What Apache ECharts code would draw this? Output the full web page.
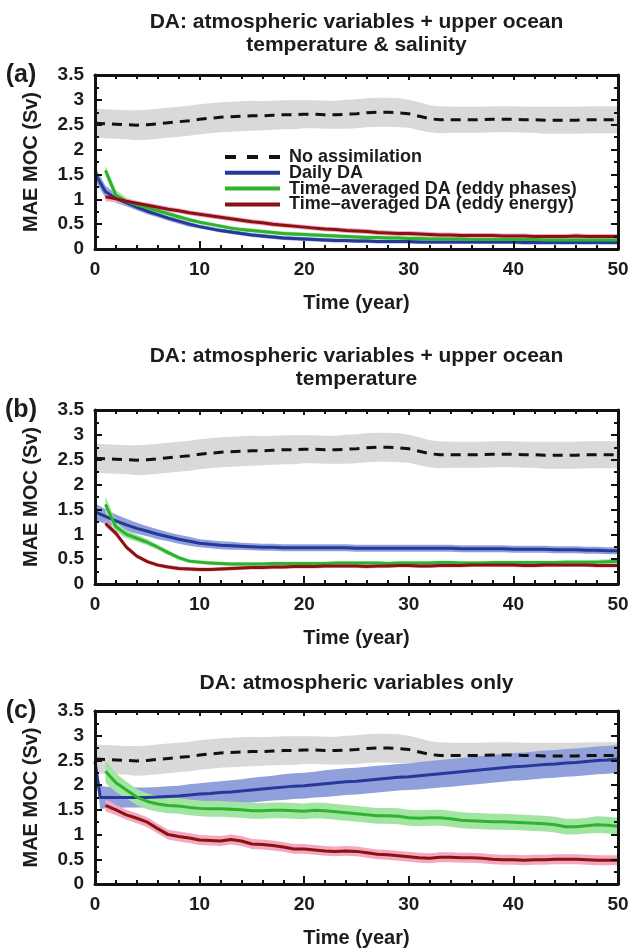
<!DOCTYPE html>
<html>
<head>
<meta charset="utf-8">
<script src="https://cdn.jsdelivr.net/npm/echarts/dist/echarts.min.js"></script>
<style>
html,body{margin:0;padding:0;background:#fff}
#chart{width:632px;height:952px}
</style>
</head>
<body>
<div id="chart"></div>
<script>
// ---- data: MAE of the MOC (Sv) against time (years) ----
const YEARS = [0,1,2,3,4,5,6,7,8,9,10,11,12,13,14,15,16,17,18,19,20,21,22,23,24,25,26,27,28,29,30,31,32,33,34,35,36,37,38,39,40,41,42,43,44,45,46,47,48,49,50];
const DAILY_C_YEARS = [0,0.5,1,2,3,4,5,6,7,8,9,10,11,12,13,14,15,16,17,18,19,20,21,22,23,24,25,26,27,28,29,30,31,32,33,34,35,36,37,38,39,40,41,42,43,44,45,46,47,48,49,50];

const SERIES_NAMES = ['No assimilation', 'Daily DA', 'Time\u2013averaged DA (eddy phases)', 'Time\u2013averaged DA (eddy energy)'];

// free run (same in every panel)
const NO_ASSIM = [2.53,2.52,2.51,2.50,2.49,2.50,2.52,2.54,2.56,2.58,2.61,2.63,2.65,2.66,2.67,2.68,2.68,2.69,2.70,2.70,2.71,2.71,2.70,2.70,2.71,2.72,2.74,2.75,2.75,2.74,2.72,2.67,2.62,2.60,2.60,2.60,2.60,2.60,2.61,2.61,2.61,2.60,2.60,2.59,2.59,2.59,2.59,2.60,2.60,2.60,2.60];
const NO_ASSIM_SPREAD = [0.29,0.29,0.29,0.29,0.30,0.30,0.30,0.30,0.30,0.30,0.30,0.30,0.30,0.30,0.30,0.30,0.29,0.29,0.29,0.29,0.28,0.28,0.28,0.28,0.29,0.29,0.29,0.29,0.29,0.29,0.28,0.28,0.27,0.27,0.26,0.26,0.26,0.26,0.26,0.26,0.26,0.26,0.26,0.27,0.27,0.27,0.27,0.27,0.27,0.27,0.27];

// (a) atmosphere + upper ocean temperature & salinity
const DAILY_A = [1.52,1.15,1.02,0.93,0.84,0.76,0.69,0.62,0.56,0.50,0.45,0.41,0.37,0.34,0.31,0.28,0.26,0.24,0.22,0.21,0.20,0.19,0.18,0.17,0.17,0.16,0.16,0.15,0.15,0.15,0.15,0.14,0.14,0.14,0.14,0.14,0.14,0.14,0.14,0.14,0.14,0.13,0.13,0.13,0.13,0.13,0.13,0.13,0.13,0.13,0.13];
const DAILY_A_SPREAD = [0.14,0.12,0.09,0.07,0.06,0.06,0.05,0.05,0.05,0.05,0.04,0.04,0.04,0.04,0.04,0.04,0.04,0.04,0.04,0.04,0.04,0.04,0.04,0.04,0.04,0.04,0.04,0.04,0.04,0.04,0.04,0.04,0.04,0.04,0.04,0.04,0.04,0.04,0.04,0.04,0.04,0.04,0.04,0.04,0.04,0.04,0.04,0.04,0.04,0.04,0.04];
const PHASES_A = [null,1.58,1.08,0.96,0.89,0.83,0.77,0.71,0.65,0.59,0.54,0.50,0.46,0.42,0.39,0.37,0.35,0.33,0.31,0.30,0.29,0.28,0.27,0.26,0.25,0.24,0.23,0.23,0.22,0.22,0.21,0.21,0.20,0.20,0.20,0.20,0.19,0.19,0.19,0.19,0.19,0.19,0.19,0.18,0.18,0.18,0.18,0.18,0.18,0.18,0.18];
const PHASES_A_SPREAD = [null,0.10,0.10,0.07,0.05,0.05,0.05,0.05,0.04,0.04,0.04,0.04,0.04,0.04,0.04,0.04,0.04,0.04,0.04,0.04,0.04,0.04,0.04,0.04,0.04,0.04,0.04,0.04,0.04,0.04,0.04,0.04,0.04,0.04,0.04,0.04,0.04,0.04,0.04,0.04,0.04,0.04,0.04,0.04,0.04,0.04,0.04,0.04,0.04,0.04,0.04];
const ENERGY_A = [null,1.05,1.01,0.96,0.92,0.88,0.84,0.80,0.77,0.73,0.70,0.67,0.64,0.61,0.58,0.55,0.53,0.50,0.48,0.46,0.44,0.42,0.40,0.39,0.37,0.36,0.35,0.33,0.32,0.31,0.31,0.30,0.29,0.28,0.28,0.27,0.27,0.27,0.27,0.26,0.26,0.26,0.25,0.25,0.25,0.25,0.26,0.25,0.25,0.25,0.25];
const ENERGY_A_SPREAD = [null,0.09,0.07,0.06,0.05,0.05,0.05,0.05,0.05,0.05,0.05,0.05,0.05,0.05,0.05,0.05,0.05,0.05,0.05,0.05,0.05,0.05,0.05,0.05,0.05,0.05,0.05,0.05,0.05,0.05,0.05,0.05,0.05,0.05,0.05,0.05,0.05,0.05,0.05,0.05,0.05,0.05,0.05,0.05,0.05,0.05,0.05,0.05,0.05,0.05,0.05];

// (b) atmosphere + upper ocean temperature
const DAILY_B = [1.45,1.36,1.27,1.19,1.12,1.06,1.00,0.95,0.90,0.86,0.82,0.80,0.78,0.77,0.76,0.75,0.74,0.74,0.73,0.73,0.73,0.73,0.73,0.73,0.73,0.72,0.72,0.72,0.72,0.72,0.72,0.72,0.72,0.72,0.72,0.71,0.71,0.71,0.71,0.71,0.70,0.70,0.70,0.70,0.69,0.69,0.69,0.68,0.68,0.67,0.67];
const DAILY_B_SPREAD = [0.17,0.15,0.13,0.12,0.11,0.10,0.10,0.09,0.09,0.09,0.08,0.08,0.08,0.08,0.07,0.07,0.07,0.07,0.07,0.07,0.07,0.07,0.07,0.07,0.07,0.07,0.07,0.07,0.07,0.07,0.07,0.07,0.07,0.07,0.07,0.07,0.07,0.07,0.07,0.07,0.07,0.07,0.07,0.07,0.07,0.07,0.07,0.07,0.07,0.07,0.07];
const PHASES_B = [null,1.60,1.15,1.00,0.92,0.84,0.74,0.63,0.53,0.46,0.44,0.42,0.41,0.40,0.40,0.40,0.40,0.41,0.41,0.41,0.41,0.41,0.41,0.42,0.42,0.42,0.42,0.42,0.41,0.42,0.42,0.42,0.42,0.43,0.43,0.42,0.42,0.42,0.43,0.43,0.43,0.43,0.43,0.43,0.43,0.44,0.44,0.44,0.44,0.45,0.46];
const PHASES_B_SPREAD = [null,0.16,0.10,0.08,0.07,0.06,0.05,0.05,0.04,0.04,0.04,0.04,0.04,0.04,0.04,0.04,0.04,0.04,0.04,0.04,0.04,0.04,0.04,0.04,0.04,0.04,0.04,0.04,0.04,0.04,0.04,0.04,0.04,0.04,0.04,0.04,0.04,0.04,0.04,0.04,0.04,0.04,0.04,0.04,0.04,0.04,0.04,0.04,0.05,0.05,0.06];
const ENERGY_B = [null,1.22,1.02,0.74,0.56,0.45,0.38,0.34,0.31,0.30,0.29,0.29,0.30,0.31,0.32,0.33,0.33,0.34,0.34,0.35,0.35,0.35,0.36,0.36,0.36,0.36,0.35,0.36,0.36,0.37,0.37,0.36,0.36,0.37,0.37,0.37,0.38,0.38,0.38,0.38,0.38,0.37,0.37,0.38,0.38,0.38,0.38,0.38,0.37,0.37,0.37];
const ENERGY_B_SPREAD = [null,0.07,0.06,0.05,0.04,0.04,0.04,0.04,0.04,0.04,0.04,0.04,0.04,0.04,0.04,0.04,0.04,0.04,0.04,0.04,0.04,0.04,0.04,0.04,0.04,0.04,0.04,0.04,0.04,0.04,0.04,0.04,0.04,0.04,0.04,0.04,0.04,0.04,0.04,0.04,0.04,0.04,0.04,0.04,0.04,0.04,0.04,0.04,0.04,0.04,0.04];

// (c) atmosphere only
const DAILY_C = [2.48,1.75,1.75,1.75,1.75,1.75,1.75,1.76,1.77,1.78,1.80,1.82,1.83,1.85,1.86,1.88,1.90,1.92,1.94,1.96,1.98,1.99,2.01,2.03,2.05,2.07,2.08,2.10,2.12,2.14,2.16,2.17,2.19,2.21,2.23,2.25,2.27,2.29,2.31,2.33,2.35,2.37,2.38,2.40,2.42,2.43,2.45,2.46,2.48,2.50,2.51,2.53];
const DAILY_C_SPREAD = [0.05,0.24,0.22,0.21,0.20,0.20,0.20,0.20,0.21,0.21,0.22,0.22,0.23,0.23,0.24,0.24,0.25,0.25,0.25,0.26,0.26,0.26,0.26,0.27,0.27,0.27,0.27,0.27,0.27,0.27,0.27,0.27,0.28,0.28,0.28,0.28,0.28,0.28,0.28,0.28,0.28,0.28,0.28,0.28,0.28,0.28,0.28,0.28,0.28,0.28,0.28,0.28];
const PHASES_C = [null,2.28,2.05,1.90,1.76,1.67,1.62,1.59,1.58,1.55,1.53,1.52,1.52,1.51,1.50,1.48,1.48,1.49,1.49,1.48,1.47,1.49,1.48,1.46,1.44,1.42,1.40,1.38,1.38,1.37,1.34,1.33,1.34,1.34,1.32,1.29,1.28,1.27,1.26,1.26,1.25,1.24,1.23,1.22,1.20,1.16,1.16,1.18,1.20,1.19,1.17];
const PHASES_C_SPREAD = [null,0.23,0.19,0.17,0.16,0.16,0.16,0.16,0.16,0.16,0.16,0.16,0.16,0.16,0.16,0.16,0.16,0.16,0.16,0.16,0.16,0.16,0.16,0.16,0.16,0.16,0.16,0.16,0.16,0.16,0.16,0.16,0.16,0.16,0.16,0.16,0.16,0.16,0.16,0.16,0.16,0.16,0.16,0.16,0.16,0.16,0.16,0.16,0.17,0.17,0.17];
const ENERGY_C = [null,1.59,1.50,1.40,1.33,1.25,1.12,1.00,0.96,0.93,0.89,0.88,0.87,0.90,0.87,0.81,0.80,0.78,0.75,0.71,0.71,0.69,0.67,0.66,0.67,0.66,0.63,0.60,0.59,0.57,0.55,0.53,0.52,0.54,0.54,0.53,0.53,0.52,0.50,0.49,0.49,0.48,0.49,0.49,0.50,0.50,0.50,0.49,0.48,0.48,0.48];
const ENERGY_C_SPREAD = [null,0.12,0.11,0.10,0.10,0.10,0.10,0.10,0.10,0.10,0.10,0.10,0.10,0.10,0.10,0.10,0.10,0.10,0.10,0.10,0.10,0.10,0.10,0.10,0.10,0.10,0.10,0.10,0.10,0.10,0.10,0.10,0.10,0.10,0.10,0.10,0.10,0.10,0.10,0.10,0.10,0.10,0.10,0.10,0.10,0.10,0.10,0.10,0.10,0.10,0.10];

const X_MIN = 0, X_MAX = 50, X_STEP = 10;
const Y_MIN = 0, Y_MAX = 3.5, Y_STEP = 0.5;

// ---- layout & styling ----
const FONT = '"Liberation Sans", Arial, Helvetica, sans-serif';
const INK = '#1c1c1c';
const COLORS = {
  none:   { line: '#111111', band: '#d9d9d9' },
  daily:  { line: '#27389a', band: '#8fa0da' },
  phases: { line: '#2db42d', band: '#a2e4a2' },
  energy: { line: '#8a1212', band: '#f3a8c1' }
};

const PANELS = [
  { top: 75, height: 174, letter: '(a)', letterY: 75,
    title: ['DA: atmospheric variables + upper ocean', 'temperature & salinity'], titleY: [22, 45],
    daily: [YEARS, DAILY_A, DAILY_A_SPREAD], phases: [YEARS, PHASES_A, PHASES_A_SPREAD], energy: [YEARS, ENERGY_A, ENERGY_A_SPREAD] },
  { top: 410, height: 174, letter: '(b)', letterY: 410,
    title: ['DA: atmospheric variables + upper ocean', 'temperature'], titleY: [356, 379],
    daily: [YEARS, DAILY_B, DAILY_B_SPREAD], phases: [YEARS, PHASES_B, PHASES_B_SPREAD], energy: [YEARS, ENERGY_B, ENERGY_B_SPREAD] },
  { top: 711, height: 173, letter: '(c)', letterY: 711,
    title: ['DA: atmospheric variables only'], titleY: [683],
    daily: [DAILY_C_YEARS, DAILY_C, DAILY_C_SPREAD], phases: [YEARS, PHASES_C, PHASES_C_SPREAD], energy: [YEARS, ENERGY_C, ENERGY_C_SPREAD] }
];
const GRID_LEFT = 95, GRID_RIGHT = 618;
const LEGEND_LEFT = 223, LEGEND_TOP = 148, LEGEND_ROW = 15.8;

function pairs(xs, ys) {
  const out = [];
  xs.forEach((x, i) => { if (ys[i] != null) out.push([x, ys[i]]); });
  return out;
}
// ensemble spread: a filled polygon between mean - spread and mean + spread
function bandSeries(g, key, xs, mean, spread) {
  const pts = [];
  xs.forEach((x, i) => {
    if (mean[i] == null) return;
    pts.push([x, +(mean[i] - spread[i]).toFixed(4), +(mean[i] + spread[i]).toFixed(4)]);
  });
  return {
    type: 'custom', name: 'band-' + key + '-' + g, xAxisIndex: g, yAxisIndex: g,
    z: 2, silent: true, clip: true, animation: false,
    data: pts, encode: { x: 0, y: [1, 2] },
    renderItem: function (params, api) {
      if (params.dataIndex !== 0) return null;
      const upper = pts.map(p => api.coord([p[0], p[2]]));
      const lower = pts.map(p => api.coord([p[0], p[1]])).reverse();
      return { type: 'polygon', shape: { points: upper.concat(lower) },
        style: { fill: COLORS[key].band, stroke: null } };
    }
  };
}
function lineSeries(g, name, key, xs, ys, dashed) {
  return { type: 'line', name: name, xAxisIndex: g, yAxisIndex: g, data: pairs(xs, ys),
    symbol: 'none', z: 3, animation: false,
    lineStyle: { color: COLORS[key].line, width: 3, type: dashed ? [10, 7] : 'solid' },
    itemStyle: { color: COLORS[key].line } };
}

const axisLineStyle = { color: '#111', width: 3 };
const tickStyle = { color: '#111', width: 2 };
const labelStyle = { fontSize: 19, fontWeight: 'bold', color: INK, fontFamily: FONT };
const nameStyle = { fontSize: 20, fontWeight: 'bold', color: INK, fontFamily: FONT };

const grids = [], xAxes = [], yAxes = [], series = [], graphics = [];
PANELS.forEach((p) => {
  grids.push({ left: GRID_LEFT, top: p.top, width: GRID_RIGHT - GRID_LEFT, height: p.height, containLabel: false });
});
// bottom / left axes carry labels; top / right mirror them to close the frame
PANELS.forEach((p, g) => {
  xAxes.push({ gridIndex: g, type: 'value', min: X_MIN, max: X_MAX, interval: X_STEP, position: 'bottom', z: 10,
    axisLine: { show: true, onZero: false, lineStyle: axisLineStyle },
    axisTick: { show: true, inside: true, length: 8, lineStyle: tickStyle },
    minorTick: { show: true, splitNumber: 5, length: 4, lineStyle: tickStyle },
    splitLine: { show: false }, minorSplitLine: { show: false },
    axisLabel: Object.assign({ margin: 11 }, labelStyle),
    name: 'Time (year)', nameLocation: 'middle', nameGap: 44, nameTextStyle: nameStyle });
  yAxes.push({ gridIndex: g, type: 'value', min: Y_MIN, max: Y_MAX, interval: Y_STEP, position: 'left', z: 10,
    axisLine: { show: true, onZero: false, lineStyle: axisLineStyle },
    axisTick: { show: true, inside: true, length: 7, lineStyle: tickStyle },
    minorTick: { show: true, splitNumber: 2, length: 4, lineStyle: tickStyle },
    splitLine: { show: false }, minorSplitLine: { show: false },
    axisLabel: Object.assign({ margin: 11 }, labelStyle),
    name: 'MAE MOC (Sv)', nameLocation: 'middle', nameGap: 54, nameTextStyle: nameStyle });
});
PANELS.forEach((p, g) => {
  xAxes.push({ gridIndex: g, type: 'value', min: X_MIN, max: X_MAX, interval: X_STEP, position: 'top', z: 10,
    axisLine: { show: true, onZero: false, lineStyle: axisLineStyle },
    axisTick: { show: true, inside: true, length: 5, lineStyle: tickStyle },
    minorTick: { show: true, splitNumber: 5, length: 4, lineStyle: tickStyle },
    splitLine: { show: false }, axisLabel: { show: false } });
  yAxes.push({ gridIndex: g, type: 'value', min: Y_MIN, max: Y_MAX, interval: Y_STEP, position: 'right', z: 10,
    axisLine: { show: true, onZero: false, lineStyle: axisLineStyle },
    axisTick: { show: true, inside: true, length: 7, lineStyle: tickStyle },
    minorTick: { show: true, splitNumber: 2, length: 4, lineStyle: tickStyle },
    splitLine: { show: false }, axisLabel: { show: false } });
});

PANELS.forEach((p, g) => {
  series.push(bandSeries(g, 'none', YEARS, NO_ASSIM, NO_ASSIM_SPREAD));
  series.push(bandSeries(g, 'daily', p.daily[0], p.daily[1], p.daily[2]));
  series.push(bandSeries(g, 'phases', p.phases[0], p.phases[1], p.phases[2]));
  series.push(bandSeries(g, 'energy', p.energy[0], p.energy[1], p.energy[2]));
  series.push(lineSeries(g, SERIES_NAMES[0], 'none', YEARS, NO_ASSIM, true));
  series.push(lineSeries(g, SERIES_NAMES[1], 'daily', p.daily[0], p.daily[1], false));
  series.push(lineSeries(g, SERIES_NAMES[2], 'phases', p.phases[0], p.phases[1], false));
  series.push(lineSeries(g, SERIES_NAMES[3], 'energy', p.energy[0], p.energy[1], false));

  const cx = (GRID_LEFT + GRID_RIGHT) / 2;
  p.title.forEach((t, i) => {
    graphics.push({ type: 'text', x: cx, y: p.titleY[i], z: 20,
      style: { text: t, align: 'center', verticalAlign: 'middle', fill: INK,
        font: 'bold 21px ' + FONT } });
  });
  graphics.push({ type: 'text', x: 21, y: p.letterY, z: 20,
    style: { text: p.letter, align: 'center', verticalAlign: 'middle', fill: INK,
      font: 'bold 25px ' + FONT } });
});

// one legend block per entry so the rows can sit tightly stacked
const legends = SERIES_NAMES.map((name, i) => {
  const key = ['none', 'daily', 'phases', 'energy'][i];
  const ls = { width: 4, color: COLORS[key].line, type: i === 0 ? [11, 11] : 'solid' };
  return {
    data: [{ name: name, lineStyle: ls }], orient: 'vertical', left: LEGEND_LEFT, top: LEGEND_TOP + i * LEGEND_ROW,
    padding: 0, itemWidth: 55, itemHeight: 14, selectedMode: false,
    itemStyle: { opacity: 0 }, lineStyle: ls,
    textStyle: { fontSize: 18, fontWeight: 'bold', color: INK, fontFamily: FONT, padding: [0, 0, 0, 4] }
  };
});

const chart = echarts.init(document.getElementById('chart'), null, { renderer: 'canvas' });
chart.setOption({
  backgroundColor: '#fff',
  animation: false,
  textStyle: { fontFamily: FONT },
  grid: grids,
  xAxis: xAxes,
  yAxis: yAxes,
  legend: legends,
  graphic: graphics,
  series: series
});
</script>
</body>
</html>
